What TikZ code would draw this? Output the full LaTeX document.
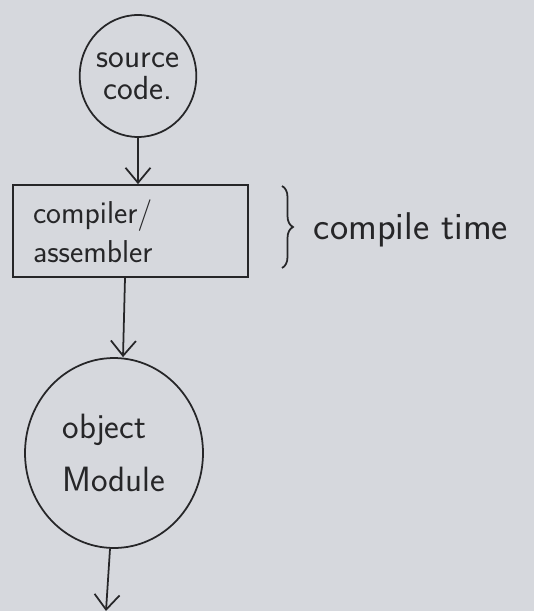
\documentclass[tikz,border=0pt]{standalone}
\usetikzlibrary{shapes.geometric,arrows.meta,decorations.pathreplacing}
\definecolor{paper}{RGB}{214,216,221}
\definecolor{pencil}{RGB}{38,38,40}
\begin{document}
\begin{tikzpicture}[x=0.02cm, y=-0.02cm,
        every node/.style={text=pencil, font=\sffamily\fontsize{18}{18}\selectfont},
        blob/.style={ellipse, draw=pencil, line width=1pt, inner sep=0pt},
        box/.style={rectangle, draw=pencil, line width=1pt, minimum width=4.7cm,
            minimum height=1.84cm, text width=3.9cm, inner xsep=0.4cm, align=left},
        flow/.style={draw=pencil, line width=1pt, -{Straight Barb[length=0.3cm, width=0.5cm]}}]
            \useasboundingbox (0,0) rectangle (534,611);
            \fill[paper] (0,0) rectangle (534,611);

            \node[blob, minimum width=2.2cm, minimum height=2.44cm, align=center,
                font=\sffamily\fontsize{19}{19}\selectfont] (src) at (138,76)
                {source\\[-1pt]code.};
            \node[box] (comp) at (130.5,231) {compiler/\\[4pt]assembler};
            \node[blob, minimum width=3.56cm, minimum height=3.8cm, align=left,
                font=\sffamily\fontsize{20}{20}\selectfont] (obj) at (114,453)
                {object\\[0.35cm]Module};
            \coordinate (out) at (106,611);

            \draw[flow] (src.south) -- (comp.north -| src.south);
            \draw[flow] (comp.south -| 125,0) -- (obj.north -| 123,0);
            \draw[flow] (obj.south -| 110,0) -- (out);

            % brace for the compile step
            \draw[draw=pencil, line width=1pt, decorate, decoration={brace, amplitude=0.22cm}]
                (282,186) -- (282,268);
            \node[font=\sffamily\fontsize{22}{22}\selectfont] (ct) at (411,230) {compile time};
        \end{tikzpicture}
\end{document}
